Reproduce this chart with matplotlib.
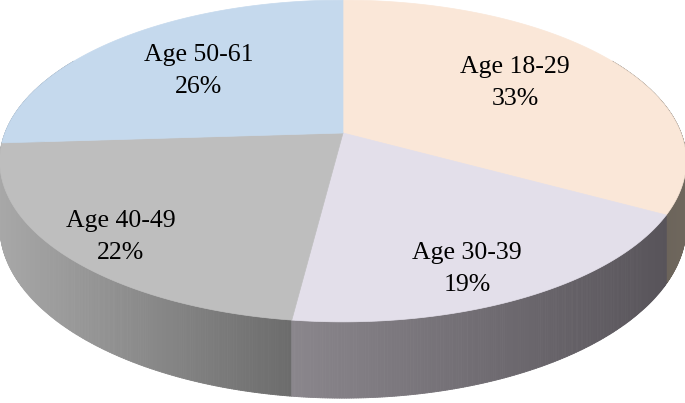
"""3D-style pie of respondents by age group, drawn as projected polygons."""

import matplotlib

matplotlib.use("Agg")
import matplotlib.pyplot as plt  # noqa: E402
import numpy as np  # noqa: E402
from matplotlib.collections import PolyCollection  # noqa: E402
from matplotlib.colors import to_rgb  # noqa: E402

labels = ["Age 18-29", "Age 30-39", "Age 40-49", "Age 50-61"]
shares = [33, 19, 22, 26]

top_colors = ["#fae7d8", "#e3dfea", "#bebebe", "#c5d9ed"]
# side wall gradient per slice: (left end, right end)
side_colors = [("#645d55", "#6f675d"), ("#8a868c", "#58545a"),
               ("#a8a8a8", "#6c6c6c"), ("#a0b0c0", "#8090a0")]
label_xy = [(515, 83), (467, 269), (121, 237), (199, 71)]

# projection of the unit disk (angles clockwise from 12 o'clock)
CX, CY = 343.0, 133.0
RX, SY = 338.0, 156.0
K = 0.174       # perspective: far half shrinks
H = 63.0        # wall thickness at the disk centre line


def project(theta, r=1.0, z=0.0):
    t = np.radians(theta)
    x = r * np.sin(t)
    d = r * np.cos(t)
    w = 1 + K * d
    return np.column_stack([CX + RX * x / w, CY - SY * d / w + z * H / w])


def lerp(c0, c1, t):
    a, b = np.array(to_rgb(c0)), np.array(to_rgb(c1))
    return tuple(a + (b - a) * t)


fig = plt.figure(figsize=(6.85, 4.03), dpi=100)
ax = fig.add_axes([0, 0, 1, 1])
ax.set_xlim(0, 685)
ax.set_ylim(403, 0)
ax.set_axis_off()

edges = np.concatenate([[0], np.cumsum(shares)]) / sum(shares) * 360.0

# side wall strips, far to near, only around the front half
strips = []
for i in range(len(shares)):
    a0, a1 = max(edges[i], 60), min(edges[i + 1], 300)
    if a1 <= a0:
        continue
    th = np.linspace(a0, a1, max(int((a1 - a0) * 3), 2))
    top = project(th)
    bot = project(th, z=1.0)
    xs = top[:, 0]
    lo, hi = xs.min(), xs.max()
    for j in range(len(th) - 1):
        quad = np.array([top[j], top[j + 1], bot[j + 1], bot[j]])
        t = ((xs[j] + xs[j + 1]) / 2 - lo) / max(hi - lo, 1e-6)
        depth = np.cos(np.radians((th[j] + th[j + 1]) / 2))
        strips.append((depth, quad, lerp(*side_colors[i], t)))

strips.sort(key=lambda s: -s[0])
side = PolyCollection([s[1] for s in strips], facecolors=[s[2] for s in strips],
                      edgecolors=[s[2] for s in strips], linewidths=0.6)
ax.add_collection(side)

# top face
polys = []
for i in range(len(shares)):
    th = np.linspace(edges[i], edges[i + 1], 200)
    arc = project(th)
    polys.append(np.vstack([[CX, CY], arc]))
ax.add_collection(PolyCollection(polys, facecolors=top_colors,
                                 edgecolors=top_colors, linewidths=0.5))

for lab, v, (x, y) in zip(labels, shares, label_xy):
    ax.text(x, y - 16, lab, ha="center", va="center", fontsize=18.5,
            family="Liberation Serif", color="black")
    ax.text(x, y + 16, f"{v}%", ha="center", va="center", fontsize=18.5,
            family="Liberation Serif", color="black")

fig.savefig("out.png", dpi=100, facecolor="white")
